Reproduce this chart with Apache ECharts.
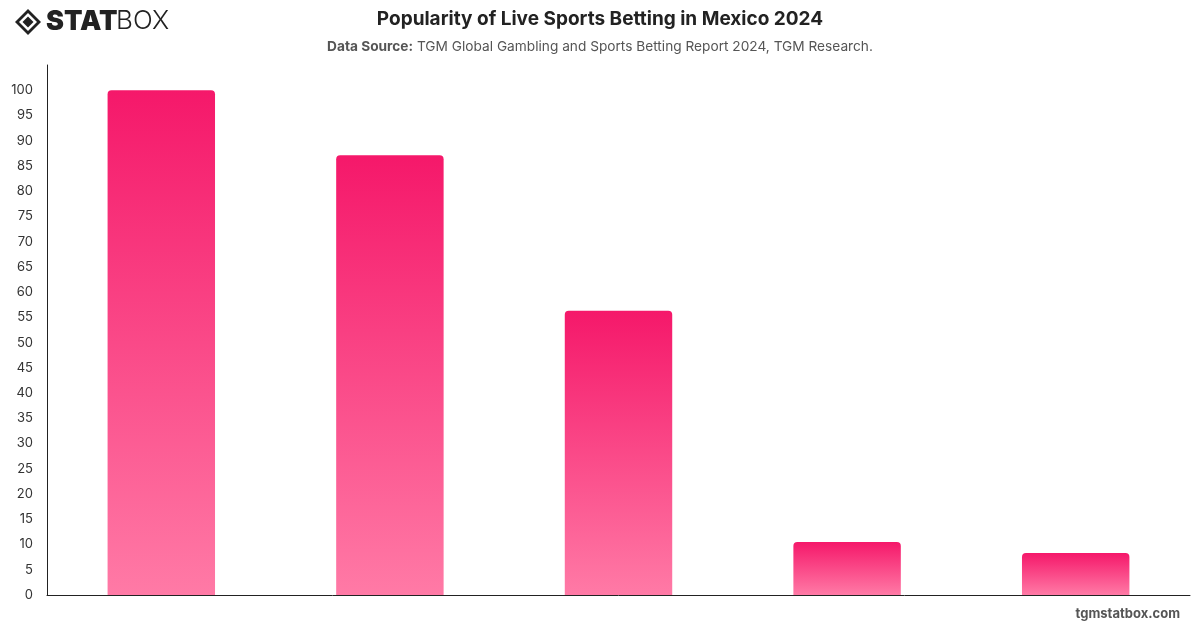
<!DOCTYPE html>
<html>
<head>
<meta charset="utf-8">
<script src="https://cdn.jsdelivr.net/npm/echarts@6/dist/echarts.min.js"></script>
<style>
html,body{margin:0;padding:0;background:#fff;}
#chart{width:1200px;height:628px;}
</style>
</head>
<body>
<div id="chart"></div>
<script>
const categories = ['A', 'B', 'C', 'D', 'E'];
const values = [100, 87.1, 56.3, 10.5, 8.3];
const yTicks = [0, 5, 10, 15, 20, 25, 30, 35, 40, 45, 50, 55, 60, 65, 70, 75, 80, 85, 90, 95, 100];

const chart = echarts.init(document.getElementById('chart'));
const font = 'Inter, "Noto Sans", sans-serif';
chart.setOption({
  animation: false,
  textStyle: { fontFamily: font },
  title: [
    {
      text: 'Popularity of Live Sports Betting in Mexico 2024',
      left: 'center', top: 5,
      textStyle: { fontFamily: font, fontSize: 19, fontWeight: 'bold', color: '#222' }
    },
    {
      text: '{b|Data Source:} TGM Global Gambling and Sports Betting Report 2024, TGM Research.',
      left: 'center', top: 35,
      textStyle: {
        fontFamily: font, fontSize: 13.7, fontWeight: 'normal', color: '#555',
        rich: { b: { fontFamily: font, fontSize: 13.7, fontWeight: 'bold', color: '#555' } }
      }
    }
  ],
  grid: { left: 47, right: 10, top: 65, bottom: 33, containLabel: false },
  xAxis: {
    type: 'category',
    data: categories,
    axisLine: { show: true, lineStyle: { color: '#222', width: 1 } },
    axisTick: { show: false },
    axisLabel: { show: false },
    splitLine: { show: false }
  },
  yAxis: {
    type: 'value',
    min: 0, max: 105, interval: 5,
    axisLine: { show: true, lineStyle: { color: '#222', width: 1 } },
    axisTick: { show: false },
    splitLine: { show: false },
    axisLabel: {
      margin: 14,
      color: '#333', fontSize: 13, fontFamily: font,
      formatter: v => (yTicks.indexOf(v) >= 0 ? String(v) : '')
    }
  },
  series: [{
    type: 'bar',
    data: values,
    barWidth: '47%',
    itemStyle: {
      borderRadius: [4, 4, 0, 0],
      color: new echarts.graphic.LinearGradient(0, 0, 0, 1, [
        { offset: 0, color: '#F5186A' },
        { offset: 1, color: '#FF7AA6' }
      ])
    }
  }],
  graphic: [
    {
      type: 'group', left: 15, top: 8,
      children: [
        { type: 'polygon', shape: { points: [[13, 0], [26, 13], [13, 26], [0, 13]] }, style: { fill: '#222' } },
        { type: 'polygon', shape: { points: [[13, 4], [22, 13], [13, 22], [4, 13]] }, style: { fill: '#fff' } },
        { type: 'polygon', shape: { points: [[13, 7.5], [18.5, 13], [13, 18.5], [7.5, 13]] }, style: { fill: '#222' } },
        { type: 'text', left: 31, top: -1, style: { text: 'STAT', fontFamily: font, fontSize: 27, fontWeight: 900, fill: '#222' } },
        { type: 'text', left: 101, top: -1, style: { text: 'BOX', fontFamily: font, fontSize: 26, fontWeight: 300, fill: '#222' } }
      ]
    },
    {
      type: 'text', right: 20, top: 608,
      style: { text: 'tgmstatbox.com', fontFamily: font, fontSize: 13, fontWeight: 'bold', fill: '#555' }
    }
  ]
});
</script>
</body>
</html>
